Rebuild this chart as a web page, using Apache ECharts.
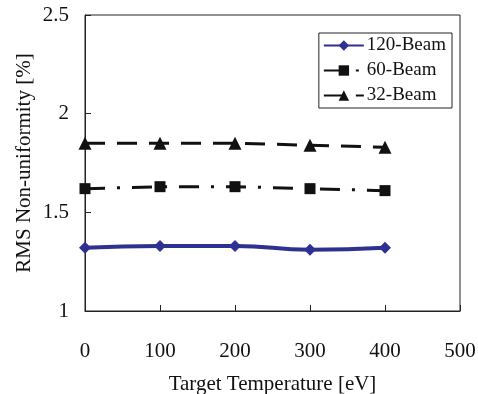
<!DOCTYPE html>
<html><head><meta charset="utf-8">
<script src="https://cdn.jsdelivr.net/npm/echarts@6/dist/echarts.min.js"></script>
<style>html,body{margin:0;padding:0;background:#fff}#c{width:478px;height:394px}</style>
</head><body><div id="c"></div>
<script>
const temps = [0, 100, 200, 300, 400];
const beam120 = [1.32, 1.33, 1.33, 1.31, 1.32];
const beam60 = [1.62, 1.63, 1.63, 1.62, 1.61];
const beam32 = [1.85, 1.85, 1.85, 1.84, 1.83];
const seriesNames = ['120-Beam', '60-Beam', '32-Beam'];

const font = 'Liberation Serif';
const chart = echarts.init(document.getElementById('c'));
const pair = (arr) => temps.map((t, i) => [t, arr[i]]);
chart.setOption({
  animation: false,
  grid: {left: 85, right: 18, top: 15, bottom: 83, show: true, borderColor: '#222', borderWidth: 1,
         outerBoundsMode: 'none', containLabel: false},
  legend: {
    right: 26, top: 33, orient: 'vertical', itemWidth: 40, itemHeight: 13, itemGap: 6,
    backgroundColor: '#fff', borderColor: '#222', borderWidth: 1, padding: [3, 6, 3, 4],
    textStyle: {fontFamily: font, fontSize: 19, color: '#111', padding: [0, 0, 0, -2]},
    data: seriesNames
  },
  xAxis: {
    type: 'value', min: 0, max: 500, interval: 100,
    name: 'Target Temperature [eV]', nameLocation: 'middle', nameGap: 63, nameMoveOverlap: false,
    nameTextStyle: {fontFamily: font, fontSize: 21, color: '#111'},
    axisLine: {lineStyle: {color: '#222'}},
    axisTick: {inside: true, length: 6, lineStyle: {color: '#222'}},
    axisLabel: {fontFamily: font, fontSize: 21, color: '#111', margin: 30},
    splitLine: {show: false}
  },
  yAxis: {
    type: 'value', min: 1, max: 2.5, interval: 0.5,
    name: 'RMS Non-uniformity [%]', nameLocation: 'middle', nameGap: 50, nameMoveOverlap: false,
    nameTextStyle: {fontFamily: font, fontSize: 21, color: '#111'},
    axisLine: {lineStyle: {color: '#222'}},
    axisTick: {inside: true, length: 6, lineStyle: {color: '#222'}},
    axisLabel: {fontFamily: font, fontSize: 21, color: '#111', margin: 16},
    splitLine: {show: false}
  },
  series: [
    {name: seriesNames[0], type: 'line', smooth: true, data: pair(beam120),
     symbol: 'diamond', symbolSize: 12, color: '#2e3192',
     lineStyle: {width: 4, color: '#2e3192'}, itemStyle: {color: '#2e3192'}},
    {name: seriesNames[1], type: 'line', data: pair(beam60),
     symbol: 'rect', symbolSize: 11, color: '#111',
     lineStyle: {width: 3, color: '#111', type: [20, 12, 3, 12]}, itemStyle: {color: '#111'}},
    {name: seriesNames[2], type: 'line', data: pair(beam32),
     symbol: 'triangle', symbolSize: 13, color: '#111',
     lineStyle: {width: 3, color: '#111', type: [20, 12]}, itemStyle: {color: '#111'}}
  ]
});
</script></body></html>
